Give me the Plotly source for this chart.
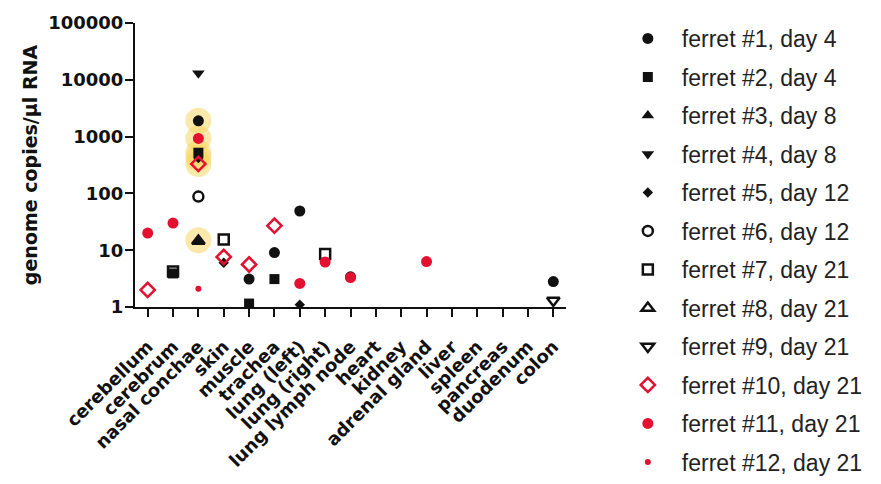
import plotly.graph_objects as go

tissues = ["cerebellum", "cerebrum", "nasal conchae", "skin", "muscle", "trachea",
           "lung (left)", "lung (right)", "lung lymph node", "heart", "kidney",
           "adrenal gland", "liver", "spleen", "pancreas", "duodenum", "colon"]

y_tickvals = [1, 10, 100, 1000, 10000, 100000]
y_ticktext = ["1", "10", "100", "1000", "10000", "100000"]

# per-ferret detections: tissue names and genome copies/µl RNA
f1_t = ["nasal conchae", "muscle", "trachea", "lung (left)", "lung lymph node", "colon"]
f1_v = [1900, 3.1, 9.1, 49, 3.4, 2.8]
f2_t = ["cerebrum", "nasal conchae", "muscle", "trachea"]
f2_v = [3.9, 520, 1.15, 3.1]
f3_t = ["nasal conchae"]
f3_v = [15]
f4_t = ["nasal conchae"]
f4_v = [13000]
f5_t = ["nasal conchae", "skin", "lung (left)"]
f5_v = [420, 6.0, 1.1]
f6_t = ["nasal conchae"]
f6_v = [88]
f7_t = ["cerebrum", "skin", "lung (right)"]
f7_v = [4.2, 15.5, 8.6]
f8_t = ["nasal conchae"]
f8_v = [14.5]
f9_t = ["colon"]
f9_v = [1.3]
f10_t = ["cerebellum", "nasal conchae", "skin", "muscle", "trachea"]
f10_v = [2.0, 330, 7.6, 5.6, 27]
f11_t = ["cerebellum", "cerebrum", "nasal conchae", "lung (left)", "lung (right)",
         "lung lymph node", "adrenal gland"]
f11_v = [20, 30, 930, 2.6, 6.2, 3.3, 6.3]
f12_t = ["nasal conchae"]
f12_v = [2.1]

names = ["ferret #1, day 4", "ferret #2, day 4", "ferret #3, day 8", "ferret #4, day 8",
         "ferret #5, day 12", "ferret #6, day 12", "ferret #7, day 21", "ferret #8, day 21",
         "ferret #9, day 21", "ferret #10, day 21", "ferret #11, day 21", "ferret #12, day 21"]

# ferrets whose nasal conchae sample is highlighted (yellow halo)
halo_ferrets = [1, 2, 3, 5, 10, 11]

BLACK = "#111111"
RED = "#e3102f"
styles = [
    dict(symbol="circle", size=11, color=BLACK),
    dict(symbol="square", size=10, color=BLACK),
    dict(symbol="triangle-up", size=11, color=BLACK),
    dict(symbol="triangle-down", size=11, color=BLACK),
    dict(symbol="diamond", size=8, color=BLACK),
    dict(symbol="circle-open", size=10, color=BLACK, line=dict(width=2.5, color=BLACK)),
    dict(symbol="square-open", size=10, color=BLACK, line=dict(width=2.5, color=BLACK)),
    dict(symbol="triangle-up-open", size=11, color=BLACK, line=dict(width=2.5, color=BLACK)),
    dict(symbol="triangle-down-open", size=11, color=BLACK, line=dict(width=2.5, color=BLACK)),
    dict(symbol="diamond-open", size=11, color=RED, line=dict(width=2.5, color=RED)),
    dict(symbol="circle", size=11, color=RED),
    dict(symbol="circle", size=6, color=RED),
]

data_t = [f1_t, f2_t, f3_t, f4_t, f5_t, f6_t, f7_t, f8_t, f9_t, f10_t, f11_t, f12_t]
data_v = [f1_v, f2_v, f3_v, f4_v, f5_v, f6_v, f7_v, f8_v, f9_v, f10_v, f11_v, f12_v]

fig = go.Figure()

# halos
hx, hy = [], []
for fid in halo_ferrets:
    t_list, v_list = data_t[fid - 1], data_v[fid - 1]
    for t, v in zip(t_list, v_list):
        if t == "nasal conchae":
            hx.append(tissues.index(t))
            hy.append(v)
fig.add_trace(go.Scatter(x=hx, y=hy, mode="markers", showlegend=False, hoverinfo="skip",
                         marker=dict(symbol="circle", size=26, color="rgba(248,212,90,0.5)",
                                     line=dict(width=0))))

for i in range(12):
    xs = [tissues.index(t) for t in data_t[i]]
    fig.add_trace(go.Scatter(x=xs, y=data_v[i], mode="markers", name=names[i],
                             legendgroup=f"g{i}", marker=styles[i], cliponaxis=False))

AXFONT = "DejaVu Sans"
fig.update_layout(
    width=881, height=484,
    margin=dict(l=135, r=315, t=20, b=177),
    plot_bgcolor="white", paper_bgcolor="white",
    font=dict(family="Liberation Sans", color="#111111"),
    legend=dict(x=1.111, y=0.99, xanchor="left", yanchor="top",
                font=dict(size=23, color="#222222", family="Liberation Sans"),
                itemwidth=58, tracegroupgap=5.6, bgcolor="rgba(0,0,0,0)",
                maxheight=484),
)
fig.update_xaxes(
    range=[-0.5, 16.5], tickvals=list(range(len(tissues))), ticktext=tissues,
    tickangle=-45, ticks="outside", ticklen=8, tickwidth=2, tickcolor="#111111",
    showline=True, linewidth=2, linecolor="#111111", showgrid=False, zeroline=False,
    ticklabelstandoff=12,
    tickfont=dict(size=18, family=AXFONT, weight="bold", color="#111111"),
)
fig.update_yaxes(
    type="log", range=[0, 5], tickvals=y_tickvals, ticktext=y_ticktext,
    ticks="outside", ticklen=8, tickwidth=2, tickcolor="#111111",
    showline=True, linewidth=2, linecolor="#111111", showgrid=False, zeroline=False,
    ticklabelstandoff=-2,
    tickfont=dict(size=18, family=AXFONT, weight="bold", color="#111111"),
    title=dict(text="genome copies/µl RNA", standoff=6,
               font=dict(size=19, family=AXFONT, weight="bold", color="#111111")),
)

fig.write_html("out.html")
